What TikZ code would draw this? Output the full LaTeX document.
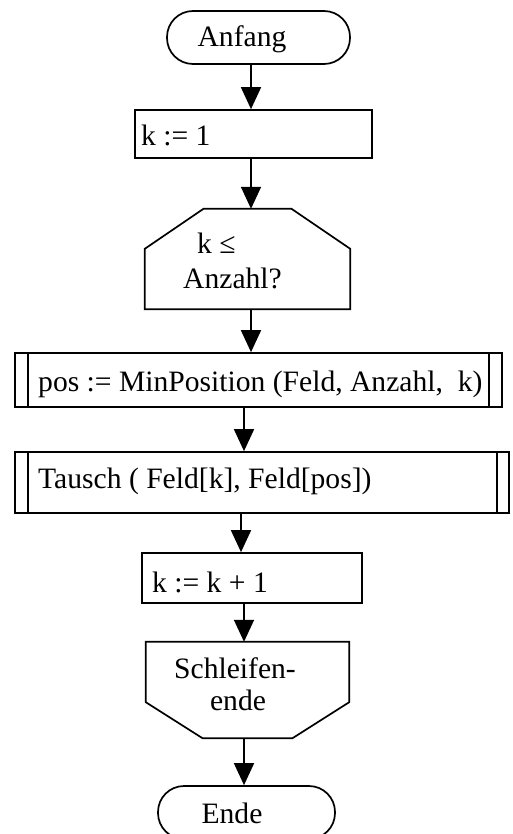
\documentclass[tikz,border=0pt]{standalone}
\usepackage{fontspec}
\setmainfont{Liberation Serif}
\usetikzlibrary{arrows.meta}
\begin{document}
\begin{tikzpicture}[x=1pt,y=-1pt,
  boxnode/.style={draw, line width=1.7pt, rectangle, inner sep=0pt},
  blank/.style={rectangle, inner sep=0pt},
  term/.style={boxnode, rounded corners=26pt},
  outline/.style={line width=1.7pt, line join=miter},
  txt/.style={inner sep=0pt, anchor=base west, font=\fontsize{29.6}{34}\selectfont},
  ctxt/.style={txt, anchor=base},
  arr/.style={line width=1.7pt, -{Triangle[length=22pt,width=20pt]}}]
\useasboundingbox (0,0) rectangle (513,834);
\clip (0,0) rectangle (513,834);
% columns for connectors
\coordinate (ca) at (251,0);
\coordinate (cb) at (244,0);
\coordinate (cc) at (241,0);
% start
\node[term, minimum width=183pt, minimum height=53pt] (anfang) at (258.5,37.5) {};
\node[ctxt] (tanfang) at (242,47) {Anfang};
% k := 1
\node[boxnode, minimum width=237pt, minimum height=48pt] (k1) at (253.5,134) {};
\node[txt] (tk1) at (141,146) {k := 1};
% loop head (hexagon)
\node[blank, minimum width=205pt, minimum height=100pt] (cond) at (247.5,259) {};
\draw[outline] ([xshift=-44pt]cond.north) -- ([xshift=44pt]cond.north)
  -- ([yshift=-40pt]cond.north east) -- (cond.south east)
  -- (cond.south west) -- ([yshift=-40pt]cond.north west) -- cycle;
\node[txt] (tcond1) at (197,253) {k ≤};
\node[txt] (tcond2) at (183,288) {Anzahl?};
% MinPosition
\node[boxnode, minimum width=487pt, minimum height=54pt] (minpos) at (258.5,380) {};
\draw[outline] ([xshift=14pt]minpos.north west) -- ([xshift=14pt]minpos.south west);
\draw[outline] ([xshift=-14pt]minpos.north east) -- ([xshift=-14pt]minpos.south east);
\node[txt] (tminpos) at (38,391) {pos := MinPosition (Feld, Anzahl,\ \ k)};
% Tausch
\node[boxnode, minimum width=494pt, minimum height=61pt] (tausch) at (262,482.5) {};
\draw[outline] ([xshift=14pt]tausch.north west) -- ([xshift=14pt]tausch.south west);
\draw[outline] ([xshift=-13pt]tausch.north east) -- ([xshift=-13pt]tausch.south east);
\node[txt] (ttausch) at (38,488) {Tausch ( Feld[k], Feld[pos])};
% k := k + 1
\node[boxnode, minimum width=220pt, minimum height=50pt] (kk) at (252,578) {};
\node[txt] (tkk) at (152,592) {k := k + 1};
% loop end
\node[blank, minimum width=203pt, minimum height=96pt] (lend) at (247.5,690) {};
\draw[outline] (lend.north west) -- (lend.north east)
  -- ([yshift=36pt]lend.south east) -- ([xshift=45pt]lend.south)
  -- ([xshift=-45pt]lend.south) -- ([yshift=36pt]lend.south west) -- cycle;
\node[ctxt] (tlend1) at (235,678) {Schleifen-};
\node[ctxt] (tlend2) at (238,710) {ende};
% end
\node[term, minimum width=177pt, minimum height=53pt] (ende) at (246.5,812.5) {};
\node[ctxt] (tende) at (232,823) {Ende};
% connectors
\draw[arr] (anfang.south -| ca) -- (k1.north -| ca);
\draw[arr] (k1.south -| ca) -- (cond.north -| ca);
\draw[arr] (cond.south -| ca) -- (minpos.north -| ca);
\draw[arr] (minpos.south -| cb) -- (tausch.north -| cb);
\draw[arr] (tausch.south -| cc) -- (kk.north -| cc);
\draw[arr] (kk.south -| cb) -- (lend.north -| cb);
\draw[arr] (lend.south -| cb) -- (ende.north -| cb);
\end{tikzpicture}
\end{document}
